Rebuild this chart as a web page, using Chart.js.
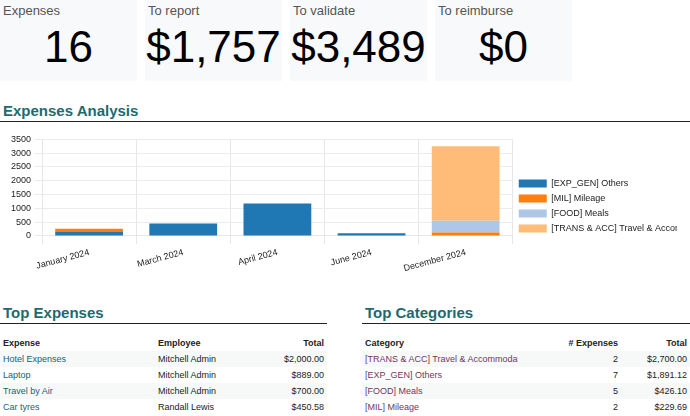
<!DOCTYPE html>
<html>
<head>
<meta charset="utf-8">
<script src="https://cdn.jsdelivr.net/npm/chart.js@4"></script>
<style>
  body { margin: 0; width: 690px; height: 416px; overflow: hidden; background: #fff;
         font-family: "Liberation Sans", Arial, sans-serif; position: relative; }
  .card { position: absolute; top: 0; width: 137px; height: 81px; background: #f8f9fa; }
  .card .lbl { position: absolute; left: 3px; top: 3px; font-size: 13px; color: #555; }
  .card .val { position: absolute; left: 0; right: 0; top: 22px; text-align: center;
               font-size: 44px; color: #000; }
  h2 { position: absolute; margin: 0; font-size: 15px; font-weight: bold; color: #1d6b6e;
       padding-left: 3px; border-bottom: 1px solid #222; height: 20px; line-height: 20px; }
  table { position: absolute; border-collapse: collapse; font-size: 9px; table-layout: fixed; }
  td, th { height: 16px; padding: 0 3px; white-space: nowrap; overflow: hidden; }
  th { font-weight: bold; color: #222; text-align: left; }
  td { color: #222; }
  tbody tr:nth-child(odd) { background: #f7f9f9; }
  .r { text-align: right; }
  .lnk1 { color: #1d5f6e; }
  .lnk2 { color: #6b3a5b; }
  #chartBox { position: absolute; left: 0; top: 131px; width: 677px; height: 146px; overflow: hidden; }
  #chartInner { position: relative; width: 681px; height: 146px; }
</style>
</head>
<body>
<div id="cards"></div>

<h2 style="left:0; top:101px; width:687px;">Expenses Analysis</h2>
<div id="chartBox"><div id="chartInner"><canvas id="expChart"></canvas></div></div>

<h2 style="left:0; top:303px; width:324px;">Top Expenses</h2>
<h2 style="left:362px; top:303px; width:325px;">Top Categories</h2>

<table id="expTable" style="left:0; top:335px; width:327px;">
  <colgroup><col style="width:155px"><col style="width:100px"><col style="width:72px"></colgroup>
  <thead><tr><th>Expense</th><th>Employee</th><th class="r">Total</th></tr></thead>
  <tbody></tbody>
</table>
<table id="catTable" style="left:362px; top:335px; width:328px;">
  <colgroup><col style="width:156px"><col style="width:103px"><col style="width:69px"></colgroup>
  <thead><tr><th>Category</th><th class="r"># Expenses</th><th class="r">Total</th></tr></thead>
  <tbody></tbody>
</table>

<script>
// KPI cards
const kpiLabels = ["Expenses", "To report", "To validate", "To reimburse"];
const kpiValues = ["16", "$1,757", "$3,489", "$0"];

// Expenses Analysis chart
const months = ["January 2024", "March 2024", "April 2024", "June 2024", "December 2024"];
const categoryNames = ["[EXP_GEN] Others", "[MIL] Mileage", "[FOOD] Meals", "[TRANS & ACC] Travel & Accommodation"];
const othersValues = [160, 450, 1180, 100, 0];
const mileageValues = [100, 0, 0, 0, 130];
const mealsValues = [0, 0, 0, 0, 426.1];
const travelValues = [0, 0, 0, 0, 2700];
const categoryColors = ["#1f77b4", "#ff7f0e", "#aec7e8", "#ffbb78"];

// Top expenses table
const expenseNames = ["Hotel Expenses", "Laptop", "Travel by Air", "Car tyres"];
const expenseEmployees = ["Mitchell Admin", "Mitchell Admin", "Mitchell Admin", "Randall Lewis"];
const expenseTotals = ["$2,000.00", "$889.00", "$700.00", "$450.58"];

// Top categories table
const topCategories = ["[TRANS & ACC] Travel & Accommodation", "[EXP_GEN] Others", "[FOOD] Meals", "[MIL] Mileage"];
const topCategoryCounts = [2, 7, 5, 2];
const topCategoryTotals = ["$2,700.00", "$1,891.12", "$426.10", "$229.69"];

// cards
const cards = document.getElementById("cards");
kpiLabels.forEach((lbl, i) => {
  const c = document.createElement("div");
  c.className = "card";
  c.style.left = (i * 145) + "px";
  c.innerHTML = '<div class="lbl">' + lbl + '</div><div class="val">' + kpiValues[i] + '</div>';
  cards.appendChild(c);
});

// tables
const expBody = document.querySelector("#expTable tbody");
expenseNames.forEach((n, i) => {
  const tr = document.createElement("tr");
  tr.innerHTML = '<td class="lnk1">' + n + '</td><td>' + expenseEmployees[i] +
    '</td><td class="r">' + expenseTotals[i] + '</td>';
  expBody.appendChild(tr);
});
const catBody = document.querySelector("#catTable tbody");
topCategories.forEach((n, i) => {
  const tr = document.createElement("tr");
  tr.innerHTML = '<td class="lnk2">' + n + '</td><td class="r">' + topCategoryCounts[i] +
    '</td><td class="r">' + topCategoryTotals[i] + '</td>';
  catBody.appendChild(tr);
});

// chart
const seriesValues = [othersValues, mileageValues, mealsValues, travelValues];
const tickFont = { family: "Liberation Sans", size: 9 };

new Chart(document.getElementById("expChart").getContext("2d"), {
  type: "bar",
  data: {
    labels: months,
    datasets: categoryNames.map((name, i) => ({
      label: name,
      data: seriesValues[i],
      backgroundColor: categoryColors[i],
      borderWidth: 0,
    })),
  },
  options: {
    responsive: true,
    maintainAspectRatio: false,
    animation: false,
    layout: { padding: { left: 8, top: 4 } },
    plugins: {
      tooltip: { enabled: false },
      legend: {
        position: "right",
        align: "center",
        labels: {
          boxWidth: 28,
          boxHeight: 8,
          padding: 6,
          color: "#222",
          font: tickFont,
        },
      },
    },
    scales: {
      x: {
        stacked: true,
        grid: { color: "#e6e6e6" },
        border: { color: "#e6e6e6" },
        ticks: { color: "#222", font: tickFont, minRotation: 15, maxRotation: 15 },
      },
      y: {
        stacked: true,
        min: 0,
        max: 3500,
        grid: { color: "#ececec" },
        border: { color: "#e6e6e6" },
        ticks: { stepSize: 500, autoSkip: false, color: "#222", font: tickFont, callback: (v) => String(v) },
      },
    },
  },
});
</script>
</body>
</html>
